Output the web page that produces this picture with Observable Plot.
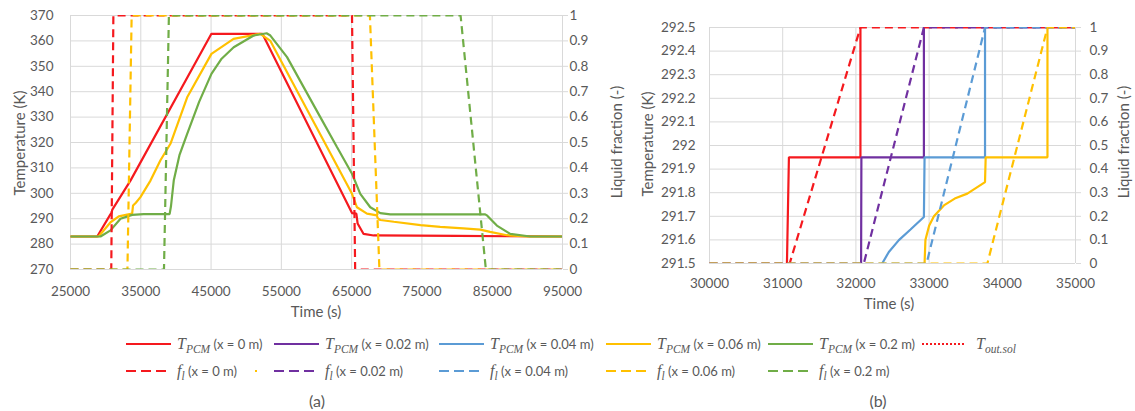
<!DOCTYPE html>
<html>
<head>
<meta charset="utf-8">
<script src="https://cdn.jsdelivr.net/npm/d3@7"></script>
<script src="https://cdn.jsdelivr.net/npm/@observablehq/plot@0.6"></script>
<style>
  html, body { margin: 0; padding: 0; background: #fff; }
  #wrap { position: relative; width: 1135px; height: 411px; overflow: hidden; font-family: Lato, "Open Sans", sans-serif; color: #595959; }
  .abs { position: absolute; white-space: nowrap; }
  .vtitle { position: absolute; white-space: nowrap; font-size: 15px; transform: translate(-50%, -50%) rotate(-90deg); }
  .htitle { position: absolute; white-space: nowrap; font-size: 15px; transform: translate(-50%, -50%); }
  .leg { position: absolute; white-space: nowrap; font-size: 13px; display: flex; align-items: center; transform: translateY(-50%); }
  .leg svg { display: block; margin-right: 6px; }
  .leg i { font-family: "Liberation Serif", serif; font-size: 16px; }
  .leg sub { font-size: 11.5px; font-style: italic; vertical-align: -4px; line-height: 0; font-family: "Liberation Serif", serif; }
</style>
</head>
<body>
<div id="wrap">
  <div id="chartA" class="abs" style="left:0;top:0"></div>
  <div id="chartB" class="abs" style="left:640px;top:0"></div>
</div>
<script>
// ---------- DATA ----------
// (a) ticks
const aTimeTicks = [25000, 35000, 45000, 55000, 65000, 75000, 85000, 95000];
const aTempTicks = [270, 280, 290, 300, 310, 320, 330, 340, 350, 360, 370];
const fracTicks = [0, 0.1, 0.2, 0.3, 0.4, 0.5, 0.6, 0.7, 0.8, 0.9, 1];
// (a) temperature series [time s, T K]
const aT_x0 = [[25000,283],[28800,283],[30700,291.8],[30850,292.3],[30950,293.6],[33530,305],[45050,362.8],[52300,362.8],[65050,292.2],[65670,292],[65850,288.1],[66700,284],[68130,283.4],[80000,283.2],[95000,283]];
const aT_x006 = [[25000,283],[29000,283],[30700,288.6],[31870,290.9],[33060,291.6],[33770,292],[33900,295.2],[34300,296.3],[34950,298.5],[36380,305],[37800,313],[39220,319.5],[41600,337.8],[45050,354.9],[48200,360.8],[52000,362.8],[53440,360],[65050,299.8],[65760,294.5],[67180,292],[68600,291.3],[68700,290.2],[69080,289.5],[71000,288.8],[74800,287.5],[77600,286.8],[80900,286.2],[83300,285.7],[84700,284.8],[87100,283.5],[90000,283],[95000,283]];
const aT_x02 = [[25000,283],[29270,283],[30690,285.4],[32110,290],[33770,291.5],[35420,291.8],[39100,291.8],[39300,295],[39690,305],[40500,315],[41600,323.4],[43300,336],[45050,347],[46500,353],[48220,357.5],[51060,362.1],[52900,363],[53440,362.1],[55810,353.6],[58170,341.8],[60540,330],[62910,318.2],[65050,307.7],[66230,299.8],[67650,294.5],[69080,292.2],[70500,291.7],[84000,291.7],[84300,291.2],[85660,287.3],[87560,284],[90410,283],[95000,283]];
// (a) liquid fraction series [time s, f (-)]
const aF_x0 = [[25000,0],[30800,0],[31100,1],[65050,1],[65500,0],[95000,0]];
const aF_x006 = [[25000,0],[33100,0],[33700,1],[67600,1],[68950,0],[95000,0]];
const aF_x02 = [[25000,0],[38300,0],[39000,1],[80500,1],[84100,0],[95000,0]];

// (b) ticks
const bTimeTicks = [30000, 31000, 32000, 33000, 34000, 35000];
const bTempTicks = [291.5, 291.6, 291.7, 291.8, 291.9, 292, 292.1, 292.2, 292.3, 292.4, 292.5];
// (b) temperature series
const bT_x0 = [[31058,291.5],[31085,291.95],[32062,291.95],[32062,292.5]];
const bT_x002 = [[32071,291.5],[32075,291.95],[32929,291.95],[32929,292.5]];
const bT_x004 = [[32359,291.5],[32450,291.549],[32587,291.599],[32746,291.644],[32929,291.697],[32938,291.95],[33764,291.95],[33764,292.5]];
const bT_x006 = [[32938,291.5],[32950,291.6],[33000,291.66],[33066,291.70],[33202,291.746],[33350,291.775],[33522,291.796],[33764,291.845],[33773,291.95],[34617,291.95],[34617,292.5]];
// (b) liquid fraction series
const bF_x0 = [[30000,0],[31095,0],[32062,1],[35000,1]];
const bF_x002 = [[30000,0],[32108,0],[32929,1],[35000,1]];
const bF_x004 = [[30000,0],[32965,0],[33764,1],[35000,1]];
const bF_x006 = [[30000,0],[33796,0],[34617,1],[35000,1]];

// colours
const RED = "#f5191e", PURPLE = "#7030a0", BLUE = "#5b9bd5", ORANGE = "#ffc000", GREEN = "#70ad47";

// ---------- HELPERS ----------
const GRID = "#d9d9d9", TEXT = "#595959";
const fmt1 = v => String(+v.toFixed(1));
function ln(arr, color, dashed, map) {
  return Plot.line(arr, {
    x: d => d[0], y: d => map ? map(d[1]) : d[1],
    stroke: color, strokeWidth: 2.2, strokeDasharray: dashed ? "8,5" : null,
    strokeLinecap: "butt", strokeLinejoin: "miter", clip: true
  });
}

// ---------- CHART (a) ----------
const fA = d3.scaleLinear([0, 1], [270, 370]);
const chartA = Plot.plot({
  width: 640, height: 300,
  marginLeft: 70, marginRight: 78, marginTop: 15, marginBottom: 31,
  style: { fontFamily: "Lato, sans-serif", fontSize: "13.5px", color: TEXT, background: "transparent" },
  x: { domain: [25000, 95000], label: null },
  y: { domain: [270, 370], label: null },
  marks: [
    Plot.gridX(aTimeTicks, { stroke: GRID, strokeOpacity: 1 }),
    Plot.gridY(aTempTicks, { stroke: GRID, strokeOpacity: 1 }),
    Plot.axisX({ ticks: aTimeTicks, tickSize: 0, tickPadding: 17, tickFormat: d => String(d), label: null, fill: TEXT }),
    Plot.axisY({ ticks: aTempTicks, tickSize: 0, tickPadding: 17, tickFormat: d => String(d), label: null, fill: TEXT }),
    Plot.axisY({ anchor: "right", ticks: fracTicks.map(fA), tickSize: 5, tickPadding: 2, tickFormat: d => fmt1(fA.invert(d)), label: null, stroke: GRID, fill: TEXT }),
    ln(aT_x0, RED), ln(aT_x006, ORANGE), ln(aT_x02, GREEN),
    ln(aF_x0, RED, true, fA), ln(aF_x006, ORANGE, true, fA), ln(aF_x02, GREEN, true, fA)
  ]
});
document.getElementById("chartA").appendChild(chartA);

// ---------- CHART (b) ----------
const fB = d3.scaleLinear([0, 1], [291.5, 292.5]);
const chartB = Plot.plot({
  width: 495, height: 300,
  marginLeft: 69, marginRight: 60, marginTop: 27, marginBottom: 37,
  style: { fontFamily: "Lato, sans-serif", fontSize: "13.5px", color: TEXT, background: "transparent" },
  x: { domain: [30000, 35000], label: null },
  y: { domain: [291.5, 292.5], label: null },
  marks: [
    Plot.gridX(bTimeTicks, { stroke: GRID, strokeOpacity: 1 }),
    Plot.gridY(bTempTicks, { stroke: GRID, strokeOpacity: 1 }),
    Plot.axisX({ ticks: bTimeTicks, tickSize: 0, tickPadding: 15, tickFormat: d => String(d), label: null, fill: TEXT }),
    Plot.axisY({ ticks: bTempTicks, tickSize: 0, tickPadding: 14, tickFormat: fmt1, label: null, fill: TEXT }),
    Plot.axisY({ anchor: "right", ticks: fracTicks.map(fB), tickSize: 5, tickPadding: 9, tickFormat: d => fmt1(fB.invert(d)), label: null, stroke: GRID, fill: TEXT }),
    ln(bT_x0, RED), ln(bT_x002, PURPLE), ln(bT_x004, BLUE), ln(bT_x006, ORANGE),
    ln(bF_x0, RED, true, fB), ln(bF_x002, PURPLE, true, fB), ln(bF_x004, BLUE, true, fB), ln(bF_x006, ORANGE, true, fB)
  ]
});
document.getElementById("chartB").appendChild(chartB);

// ---------- TITLES & LEGEND ----------
const wrap = document.getElementById("wrap");
function add(cls, html, x, y, extra) {
  const d = document.createElement("div");
  d.className = cls; d.innerHTML = html;
  d.style.left = x + "px"; d.style.top = y + "px";
  if (extra) Object.assign(d.style, extra);
  wrap.appendChild(d);
  return d;
}
add("vtitle", "Temperature (K)", 19, 143);
add("vtitle", "Liquid fraction (-)", 616, 142);
add("vtitle", "Temperature (K)", 647, 144);
add("vtitle", "Liquid fraction (-)", 1123, 142);
add("htitle", "Time (s)", 316, 311);
add("htitle", "Time (s)", 889, 303);
add("htitle", "(a)", 317, 400, { fontSize: "16px" });
add("htitle", "(b)", 878, 400, { fontSize: "16px" });

const TPCM = '<i>T</i><sub>PCM</sub>';
const FL = '<i>f</i><sub>l</sub>';
function swatch(color, dash) {
  return `<svg width="45" height="6"><line x1="0" y1="3" x2="45" y2="3" stroke="${color}" stroke-width="2.2" ${dash ? `stroke-dasharray="${dash}"` : ""}/></svg>`;
}
const legendRows = [
  [126, 344, RED, null, TPCM + "&nbsp;(x = 0 m)"],
  [274, 344, PURPLE, null, TPCM + "&nbsp;(x = 0.02 m)"],
  [439, 344, BLUE, null, TPCM + "&nbsp;(x = 0.04 m)"],
  [606, 344, ORANGE, null, TPCM + "&nbsp;(x = 0.06 m)"],
  [768, 344, GREEN, null, TPCM + "&nbsp;(x = 0.2 m)"],
  [922, 344, RED, "2,2", '<i>T</i><sub>out.sol</sub>'],
  [126, 371, RED, "10,5", FL + "&nbsp;(x = 0 m)"],
  [274, 371, PURPLE, "10,5", FL + "&nbsp;(x = 0.02 m)"],
  [439, 371, BLUE, "10,5", FL + "&nbsp;(x = 0.04 m)"],
  [606, 371, ORANGE, "10,5", FL + "&nbsp;(x = 0.06 m)"],
  [768, 371, GREEN, "10,5", FL + "&nbsp;(x = 0.2 m)"]
];
for (const [x, y, c, dash, label] of legendRows) {
  const sw = (dash === "2,2") ? `<svg width="46" height="6" style="margin-right:8px"><line x1="0" y1="3" x2="44" y2="3" stroke="${c}" stroke-width="2.2" stroke-dasharray="2,2"/></svg>` : swatch(c, dash);
  add("leg", sw + "<span>" + label + "</span>", x, y);
}
// small stray marker in the original legend
add("leg", `<svg width="4" height="4"><rect x="1" y="1" width="2" height="2" fill="${ORANGE}"/></svg>`, 254, 371);
</script>
</body>
</html>
